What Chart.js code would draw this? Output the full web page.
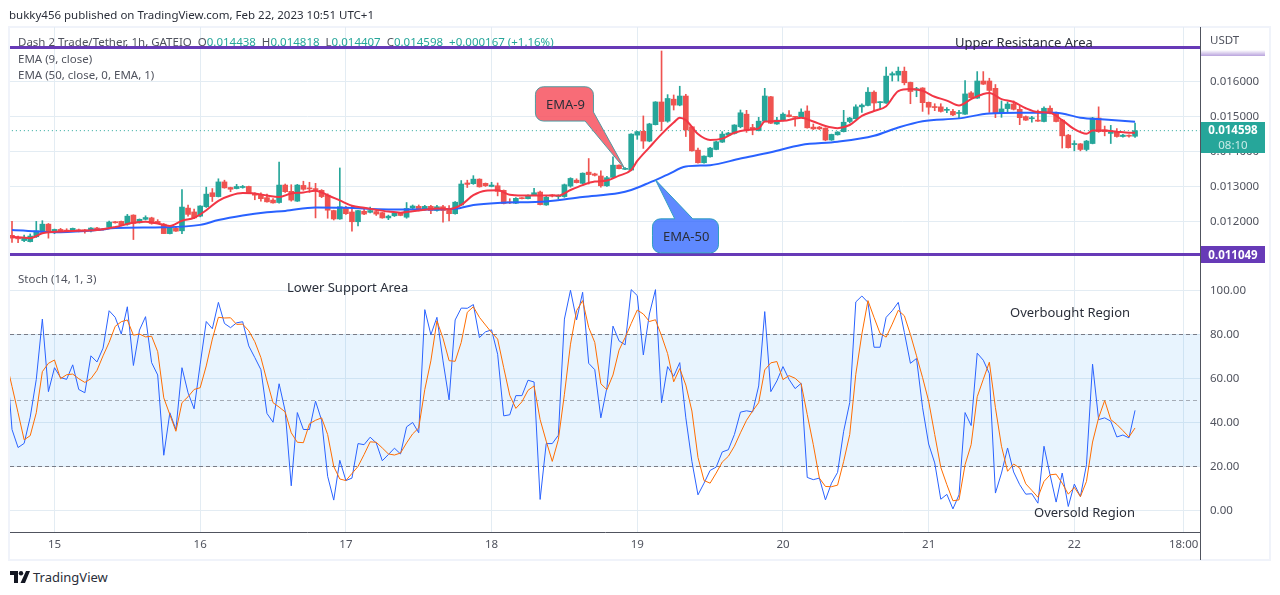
<!DOCTYPE html>
<html>
<head>
<meta charset="utf-8">
<title>Dash 2 Trade/Tether</title>
<script src="https://cdn.jsdelivr.net/npm/chart.js@4"></script>
<style>
body { margin: 0; background: #fff; font-family: "Noto Sans", sans-serif; }
#frame { position: absolute; left: 8px; top: 26px; width: 1263px; height: 535px; border: 2px solid #f0f3fa; box-sizing: border-box; }
canvas { position: absolute; left: 0; }
#priceChart { top: 0; }
#stochChart { top: 245px; }
.txt { position: absolute; white-space: nowrap; line-height: 16px; font-size: 11.5px; color: #50535e; }
.note { color: #2a2e39; font-size: 13px; }
.up { color: #26a69a; }
.tag { position: absolute; left: 1201px; width: 64px; color: #fff; font-size: 11.5px; font-weight: bold; text-align: center; }
</style>
</head>
<body>
<div id="frame"></div>
<canvas id="priceChart" width="1280" height="279"></canvas>
<canvas id="stochChart" width="1280" height="315"></canvas>

<div class="txt" style="left:9px;top:7px;color:#2a2e39">bukky456 published on TradingView.com, Feb 22, 2023 10:51 UTC+1</div>
<div class="txt" style="left:18px;top:34px">Dash 2 Trade/Tether, 1h, GATEIO&nbsp; O<span class="up">0.014438</span>&nbsp; H<span class="up">0.014818</span>&nbsp; L<span class="up">0.014407</span>&nbsp; C<span class="up">0.014598</span>&nbsp; <span class="up">+0.000167 (+1.16%)</span></div>
<div class="txt" style="left:18px;top:51px">EMA (9, close)</div>
<div class="txt" style="left:18px;top:67px">EMA (50, close, 0, EMA, 1)</div>
<div class="txt" style="left:18px;top:271px">Stoch (14, 1, 3)</div>
<div class="txt" style="left:1210px;top:32px">USDT</div>

<div class="txt note" style="left:955px;top:34px">Upper Resistance Area</div>
<div class="txt note" style="left:287px;top:279px">Lower Support Area</div>
<div class="txt note" style="left:1010px;top:304px">Overbought Region</div>
<div class="txt note" style="left:1034px;top:504px">Oversold Region</div>
<div class="txt note" style="left:546px;top:96px;color:#2a2e39">EMA-9</div>
<div class="txt note" style="left:663px;top:228px;color:#2a2e39">EMA-50</div>

<div class="tag" style="top:50px;height:6px;background:linear-gradient(#fff,#b9a3dd)"></div>
<div class="tag" style="top:122px;height:31px;background:#26a69a;line-height:15px">0.014598<br><span style="font-weight:normal;color:#c8ebe7">08:10</span></div>
<div class="tag" style="top:246px;height:17px;background:#673ab7;line-height:17px">0.011049</div>

<svg style="position:absolute;left:10px;top:571px" width="20" height="12" viewBox="0 0 20 12">
<path d="M0 0h8v12h-4v-8h-4z M16 0h4l-5 12h-4.5z" fill="#131722"/><circle cx="11" cy="2.2" r="2.2" fill="#131722"/>
</svg>
<div class="txt" style="left:33px;top:569px;color:#2a2e39;font-size:13px">TradingView</div>

<script>
// Candles, one per hour, first one is Feb 14 17:00
var opens = [0.01160,0.01154,0.01145,0.01142,0.01156,0.01169,0.01192,0.01169,0.01177,0.01175,
    0.01172,0.01176,0.01175,0.01173,0.01181,0.01178,0.01183,0.01199,0.01200,0.01192,
    0.01218,0.01196,0.01206,0.01210,0.01200,0.01192,0.01165,0.01180,0.01173,0.01238,
    0.01227,0.01215,0.01242,0.01282,0.01271,0.01313,0.01297,0.01294,0.01297,0.01300,
    0.01280,0.01275,0.01268,0.01261,0.01254,0.01304,0.01286,0.01258,0.01303,0.01295,
    0.01293,0.01289,0.01275,0.01231,0.01207,0.01239,0.01227,0.01199,0.01229,0.01226,
    0.01228,0.01225,0.01210,0.01216,0.01225,0.01212,0.01238,0.01243,0.01234,0.01243,
    0.01231,0.01242,0.01232,0.01222,0.01247,0.01310,0.01308,0.01321,0.01309,0.01300,
    0.01302,0.01289,0.01255,0.01252,0.01267,0.01265,0.01276,0.01284,0.01247,0.01276,
    0.01271,0.01271,0.01301,0.01318,0.01309,0.01341,0.01336,0.01330,0.01302,0.01326,
    0.01361,0.01349,0.01347,0.01447,0.01458,0.01430,0.01477,0.01542,0.01487,0.01550,
    0.01533,0.01559,0.01471,0.01404,0.01368,0.01385,0.01406,0.01427,0.01447,0.01452,
    0.01471,0.01507,0.01469,0.01460,0.01487,0.01557,0.01479,0.01490,0.01505,0.01500,
    0.01498,0.01516,0.01470,0.01470,0.01467,0.01433,0.01448,0.01457,0.01486,0.01494,
    0.01528,0.01532,0.01570,0.01540,0.01539,0.01619,0.01619,0.01630,0.01598,0.01576,
    0.01582,0.01541,0.01528,0.01528,0.01518,0.01515,0.01509,0.01507,0.01568,0.01553,
    0.01602,0.01602,0.01581,0.01510,0.01523,0.01536,0.01521,0.01500,0.01494,0.01490,
    0.01486,0.01524,0.01511,0.01490,0.01447,0.01420,0.01422,0.01406,0.01423,0.01496,
    0.01462,0.01452,0.01456,0.01443,0.01446,0.014438];
var closes = [0.01152,0.01150,0.01152,0.01158,0.01173,0.01192,0.01168,0.01177,0.01172,0.01171,
    0.01180,0.01172,0.01173,0.01181,0.01175,0.01176,0.01198,0.01196,0.01189,0.01215,
    0.01194,0.01206,0.01211,0.01194,0.01196,0.01165,0.01181,0.01172,0.01241,0.01220,
    0.01210,0.01244,0.01278,0.01271,0.01313,0.01296,0.01292,0.01300,0.01300,0.01281,
    0.01275,0.01265,0.01256,0.01253,0.01304,0.01285,0.01261,0.01304,0.01292,0.01293,
    0.01291,0.01271,0.01232,0.01207,0.01242,0.01222,0.01199,0.01231,0.01221,0.01231,
    0.01221,0.01210,0.01215,0.01223,0.01217,0.01237,0.01244,0.01231,0.01243,0.01231,
    0.01242,0.01231,0.01222,0.01255,0.01307,0.01306,0.01321,0.01299,0.01302,0.01304,
    0.01286,0.01251,0.01253,0.01266,0.01265,0.01274,0.01282,0.01248,0.01269,0.01273,
    0.01273,0.01305,0.01323,0.01311,0.01338,0.01334,0.01332,0.01302,0.01325,0.01361,
    0.01351,0.01352,0.01450,0.01457,0.01430,0.01479,0.01542,0.01486,0.01552,0.01533,
    0.01559,0.01462,0.01402,0.01368,0.01387,0.01410,0.01428,0.01450,0.01453,0.01476,
    0.01511,0.01460,0.01462,0.01487,0.01559,0.01481,0.01490,0.01507,0.01500,0.01498,
    0.01513,0.01468,0.01465,0.01465,0.01433,0.01449,0.01456,0.01484,0.01496,0.01528,
    0.01533,0.01570,0.01539,0.01542,0.01616,0.01623,0.01630,0.01597,0.01572,0.01580,
    0.01540,0.01527,0.01526,0.01515,0.01520,0.01505,0.01510,0.01565,0.01554,0.01602,
    0.01593,0.01575,0.01509,0.01522,0.01536,0.01521,0.01497,0.01490,0.01495,0.01487,
    0.01524,0.01510,0.01486,0.01445,0.01411,0.01423,0.01406,0.01430,0.01496,0.01457,
    0.01457,0.01456,0.01443,0.01447,0.01444,0.014598];
var highs = [0.01200,0.01158,0.01161,0.01164,0.01200,0.01202,0.01194,0.01178,0.01180,0.01179,
    0.01181,0.01178,0.01177,0.01182,0.01183,0.01179,0.01201,0.01200,0.01201,0.01220,
    0.01219,0.01207,0.01216,0.01212,0.01205,0.01194,0.01184,0.01186,0.01291,0.01247,
    0.01235,0.01245,0.01298,0.01294,0.01322,0.01318,0.01298,0.01306,0.01303,0.01301,
    0.01282,0.01282,0.01278,0.01265,0.01370,0.01307,0.01305,0.01306,0.01315,0.01312,
    0.01309,0.01291,0.01279,0.01232,0.01353,0.01243,0.01245,0.01232,0.01235,0.01241,
    0.01235,0.01226,0.01218,0.01225,0.01226,0.01254,0.01247,0.01247,0.01246,0.01246,
    0.01246,0.01246,0.01245,0.01257,0.01317,0.01318,0.01331,0.01322,0.01310,0.01312,
    0.01310,0.01290,0.01265,0.01268,0.01268,0.01276,0.01295,0.01287,0.01272,0.01277,
    0.01276,0.01307,0.01325,0.01322,0.01339,0.01380,0.01338,0.01345,0.01329,0.01385,
    0.01362,0.01354,0.01451,0.01458,0.01502,0.01481,0.01543,0.01688,0.01563,0.01562,
    0.01587,0.01564,0.01472,0.01410,0.01388,0.01412,0.01430,0.01457,0.01455,0.01477,
    0.01519,0.01518,0.01478,0.01498,0.01581,0.01558,0.01498,0.01511,0.01517,0.01501,
    0.01522,0.01531,0.01479,0.01472,0.01468,0.01450,0.01457,0.01518,0.01498,0.01534,
    0.01537,0.01583,0.01574,0.01543,0.01642,0.01628,0.01642,0.01642,0.01599,0.01584,
    0.01583,0.01542,0.01537,0.01537,0.01526,0.01521,0.01518,0.01603,0.01572,0.01629,
    0.01629,0.01610,0.01592,0.01545,0.01542,0.01545,0.01532,0.01502,0.01501,0.01519,
    0.01528,0.01531,0.01513,0.01492,0.01449,0.01431,0.01423,0.01432,0.01498,0.01528,
    0.01473,0.01475,0.01466,0.01449,0.01448,0.014818];
var lows = [0.01140,0.01139,0.01142,0.01141,0.01154,0.01167,0.01152,0.01165,0.01170,0.01168,
    0.01171,0.01170,0.01166,0.01170,0.01174,0.01175,0.01180,0.01195,0.01187,0.01189,
    0.01148,0.01195,0.01204,0.01192,0.01194,0.01165,0.01164,0.01171,0.01165,0.01215,
    0.01208,0.01213,0.01240,0.01257,0.01270,0.01295,0.01285,0.01293,0.01295,0.01281,
    0.01262,0.01258,0.01255,0.01252,0.01252,0.01283,0.01258,0.01257,0.01289,0.01283,
    0.01210,0.01268,0.01209,0.01204,0.01206,0.01220,0.01172,0.01187,0.01219,0.01224,
    0.01217,0.01209,0.01205,0.01214,0.01216,0.01209,0.01236,0.01230,0.01232,0.01222,
    0.01229,0.01198,0.01201,0.01221,0.01246,0.01297,0.01306,0.01298,0.01300,0.01299,
    0.01273,0.01250,0.01251,0.01251,0.01264,0.01264,0.01274,0.01247,0.01246,0.01270,
    0.01265,0.01269,0.01298,0.01310,0.01307,0.01307,0.01330,0.01298,0.01300,0.01324,
    0.01350,0.01348,0.01345,0.01435,0.01409,0.01428,0.01476,0.01460,0.01484,0.01519,
    0.01531,0.01443,0.01401,0.01367,0.01367,0.01384,0.01405,0.01426,0.01445,0.01450,
    0.01468,0.01455,0.01448,0.01459,0.01486,0.01480,0.01478,0.01488,0.01499,0.01473,
    0.01497,0.01467,0.01463,0.01463,0.01431,0.01432,0.01447,0.01456,0.01482,0.01493,
    0.01512,0.01531,0.01516,0.01520,0.01538,0.01602,0.01602,0.01591,0.01537,0.01557,
    0.01515,0.01507,0.01517,0.01513,0.01511,0.01503,0.01497,0.01506,0.01552,0.01552,
    0.01592,0.01512,0.01497,0.01498,0.01512,0.01519,0.01477,0.01489,0.01484,0.01486,
    0.01485,0.01508,0.01485,0.01410,0.01410,0.01402,0.01402,0.01402,0.01422,0.01455,
    0.01445,0.01423,0.01441,0.01441,0.01441,0.014407];

var ema9At = [0,3,5,8,11,14,17,20,22,24,26,28,30,32,34,36,38,40,42,44,46,48,50,52,54,56,58,60,62,64,66,68,70,72,74,76,78,80,82,84,86,88,90,92,94,96,98,100,102,103,105,107,109,110,111,113,115,117,119,121,123,124,127,130,132,134,136,138,140,142,144,146,148,150,152,154,156,158,160,161,163,165,167,169,171,173,175,177,178,180,182,184,185];
var ema9 = [0.01156,0.01152,0.01166,0.01171,0.01173,0.01175,0.01184,0.01196,0.01199,0.01194,0.01187,0.01202,0.01210,0.01232,0.01259,0.01274,0.01281,0.01280,0.01274,0.01270,0.01280,0.01283,0.01288,0.01275,0.01260,0.01245,0.01239,0.01233,0.01228,0.01225,0.01229,0.01233,0.01237,0.01235,0.01247,0.01275,0.01288,0.01289,0.01276,0.01274,0.01274,0.01274,0.01274,0.01290,0.01304,0.01314,0.01317,0.01331,0.01347,0.01373,0.01412,0.01450,0.01483,0.01497,0.01490,0.01450,0.01433,0.01437,0.01454,0.01462,0.01466,0.01486,0.01488,0.01497,0.01486,0.01473,0.01467,0.01476,0.01502,0.01516,0.01530,0.01573,0.01579,0.01574,0.01557,0.01546,0.01532,0.01550,0.01565,0.01568,0.01550,0.01542,0.01524,0.01513,0.01511,0.01490,0.01464,0.01451,0.01460,0.01460,0.01457,0.01454,0.01454];
var ema50At = [0,8,14,17,25,31,34,38,42,45,50,55,62,68,73,76,80,88,94,100,102,105,108,111,115,120,125,130,136,142,146,150,156,161,166,172,176,180,185];
var ema50 = [0.01175,0.01169,0.01175,0.01181,0.01183,0.01190,0.01204,0.01217,0.01226,0.01230,0.01240,0.01239,0.01234,0.01234,0.01236,0.01247,0.01253,0.01257,0.01270,0.01281,0.01290,0.01311,0.01334,0.01357,0.01361,0.01380,0.01398,0.01419,0.01428,0.01445,0.01469,0.01487,0.01495,0.01509,0.01511,0.01511,0.01497,0.01492,0.01485];

// Stochastic, first value belongs to the hour before the first candle
var stochK = [73,36.7,28.5,30.4,42.3,59.5,86.9,53.9,64.8,60.3,59.5,
    66.1,54.9,53.4,70.2,67.4,73.7,90.7,87.7,80.1,92.5,
    65.8,81.9,88,67.1,61.5,25,44.3,36.7,64.8,53.4,
    46.1,66.4,85.8,82.5,94.5,84.9,83,85.2,85.7,74.7,
    69.4,63.9,44,40,57.5,45.1,11.1,44.4,36.7,36.7,
    49.6,40.9,15.4,4.6,22.7,13.5,14.6,30.3,29.8,33.2,
    30.6,22.5,25.3,28.2,25.6,37.9,39.9,35.2,91.2,79.8,
    87.7,67.9,50.2,86.5,91.9,91.8,93.5,78.5,81.1,82,
    70.9,42.9,43.4,52.1,52.1,59.1,58.3,4.9,30.3,30.3,
    34.1,86.9,100,86.5,99.1,66.8,63.9,42,55.7,83.7,
    77,75.2,100.3,97.6,70.6,89.2,100.3,48.9,65.3,60.9,
    67.1,42,22.2,7,12.3,18.1,19.6,26.5,27.5,34.4,
    44.6,45.2,44.7,56.5,90.3,53.9,58.8,65.3,59.5,55.3,
    57.7,14.9,13.9,14.6,4.7,12.3,17.2,35.9,48.9,94.7,
    97.4,94.5,74.1,74.1,87.7,90.7,94.5,80.8,66.8,69,
    46.6,30.1,21.5,5,7.2,0.6,7,44.4,38.5,71.4,
    68.2,62.1,7.8,16.9,28.3,17.4,11.6,7.3,7.5,3.2,
    29.1,16.1,3.7,16.9,1.7,11.9,6.2,20.7,66.4,41.2,
    42,40.5,33.3,34.2,32.9,45.4];
var stochD = [68.2,56.3,44.3,32,33.9,44.3,63,66.8,68.3,59.8,61.6,
    61.9,59.8,58.1,59.8,63.6,70.2,76.3,83.6,85.7,86.5,
    79.6,80.1,78.8,79.1,72.1,51.1,43.5,35.9,48.9,51.6,
    54.9,55.7,65.6,77.8,87.7,87.4,87.5,84.5,84.6,81.6,
    76.6,69.4,58.8,48.9,46.9,44.7,35.2,30.9,30.7,39.3,
    40.9,42,34.4,19.9,14.2,13.5,16.7,19.9,25.3,31.1,
    30.9,28.3,25.6,25.1,26,30.6,34.7,37.4,54.9,67.9,
    86.1,78.2,68,67.7,76.3,90,92.5,87.7,84.2,80.8,
    77.8,64.8,52.2,46.3,49.3,54.5,56.5,41.2,31.4,22.2,
    32.1,52.7,75.5,90.7,95.3,83.1,76.3,57.5,54.8,61.5,
    72.8,78.5,84.9,91,89.2,85.8,86.6,79.3,71.2,58.4,
    64.4,56.9,45.1,24,13.5,12.3,16.9,21.9,24.5,29.1,
    35.2,40.9,45.1,48.9,63.8,67,67.6,59.4,61.2,60,
    57.5,43.5,29.8,14.6,10.8,10.7,11.4,22.2,34.4,61.8,
    80.1,95.3,87.7,80.4,78.7,84.6,90.9,88.4,79.9,70.2,
    60.3,49.6,34.4,19.5,11.6,4.3,4.7,20.7,29.8,51.6,
    59.5,67.3,46.6,29.1,17.7,21,19.2,12,9,5.9,
    13.1,16.1,16.4,12.3,7.3,10.4,6.2,13.1,31,42,
    49.9,41.2,39,36.2,33.3,37.4];

var resistance = 0.01698;
var support = 0.011049;
var lastPrice = 0.014598;

var priceTicks = [0.012, 0.013, 0.014, 0.015, 0.016];
var stochTicks = [0, 20, 40, 60, 80, 100];
var dayTickAt = [7, 31, 55, 79, 103, 127, 151, 175, 193];
var dayTickLabels = ['15', '16', '17', '18', '19', '20', '21', '22', '18:00'];

var FONT = '"Noto Sans", sans-serif';
var GRID = '#e3ecf3';
var AXIS = '#50535e';
var TEXT = '#50535e';
var UP = '#26a69a';
var DOWN = '#ef5350';

function pairs(at, values) {
    return values.map(function (v, n) { return { x: at[n], y: v }; });
}

function fromIndex(start, values) {
    return values.map(function (v, n) { return { x: start + n, y: v }; });
}

// own ticks, and keep the range that was asked for
function setTicks(list) {
    return function (scale) {
        scale.ticks = list.map(function (v) { return { value: v }; });
        scale.min = scale.options.min;
        scale.max = scale.options.max;
    };
}

var xBase = {
    type: 'linear',
    min: -0.33,
    max: 195.7,
    offset: false,
    afterBuildTicks: setTicks(dayTickAt),
    grid: { color: GRID, offset: false, drawTicks: false }
};

// Callouts hang on a point of the chart, the outline is in pixels from that point
var callouts = [
    {
        tip: [101, 0.01349], fill: 'rgba(247,82,95,0.85)', stroke: '#4f9aa0',
        shape: [[-89.7, -82.6, 8], [-31.7, -82.6, 8], [-31.7, -57.3, 0], [0, 0, 0], [-40, -48.3, 0], [-89.7, -48.3, 8]]
    },
    {
        tip: [106, 0.01319], fill: 'rgba(41,98,255,0.75)', stroke: '#2f9fc0',
        shape: [[-3, 39, 8], [19.3, 39, 0], [0, 0, 0], [37.3, 39, 0], [63, 39, 8], [63, 73, 8], [-3, 73, 8]]
    }
];

var calloutPlugin = {
    id: 'callouts',
    afterDatasetsDraw: function (chart) {
        var c = chart.ctx;
        callouts.forEach(function (co) {
            var tx = chart.scales.x.getPixelForValue(co.tip[0]);
            var ty = chart.scales.y.getPixelForValue(co.tip[1]);
            var pts = co.shape;
            var n = pts.length;
            c.save();
            c.beginPath();
            // start halfway along the closing edge so every corner can be rounded
            c.moveTo(tx + (pts[n - 1][0] + pts[0][0]) / 2, ty + (pts[n - 1][1] + pts[0][1]) / 2);
            for (var i = 0; i < n; i++) {
                var p = pts[i];
                var q = pts[(i + 1) % n];
                c.arcTo(tx + p[0], ty + p[1], tx + q[0], ty + q[1], p[2]);
            }
            c.closePath();
            c.fillStyle = co.fill;
            c.fill();
            c.strokeStyle = co.stroke;
            c.lineWidth = 1;
            c.stroke();
            c.restore();
        });
    }
};

var bandPlugin = {
    id: 'band',
    beforeDatasetsDraw: function (chart) {
        var c = chart.ctx;
        var a = chart.chartArea;
        var y = chart.scales.y;
        c.save();
        c.fillStyle = 'rgba(33,150,243,0.1)';
        c.fillRect(a.left, y.getPixelForValue(80), a.right - a.left, y.getPixelForValue(20) - y.getPixelForValue(80));
        c.setLineDash([4, 3]);
        c.lineWidth = 1;
        [[80, '#787b86'], [50, 'rgba(120,123,134,0.6)'], [20, '#787b86']].forEach(function (l) {
            var py = Math.round(y.getPixelForValue(l[0])) + 0.5;
            c.strokeStyle = l[1];
            c.beginPath();
            c.moveTo(a.left, py);
            c.lineTo(a.right, py);
            c.stroke();
        });
        c.restore();
    },
    afterDraw: function (chart) {
        // axis line carries on down through the time scale
        var c = chart.ctx;
        var a = chart.chartArea;
        c.save();
        c.strokeStyle = AXIS;
        c.beginPath();
        c.moveTo(a.right + 0.5, a.bottom);
        c.lineTo(a.right + 0.5, chart.height);
        c.stroke();
        c.restore();
    }
};

var candleColors = closes.map(function (v, i) { return v >= opens[i] ? UP : DOWN; });

var priceChart = new Chart(document.getElementById('priceChart').getContext('2d'), {
    type: 'bar',
    data: {
        datasets: [
            {
                type: 'line', data: [{ x: -2, y: resistance }, { x: 198, y: resistance }],
                borderColor: '#673ab7', borderWidth: 3, pointRadius: 0, order: 0
            },
            {
                type: 'line', data: [{ x: -2, y: support }, { x: 198, y: support }],
                borderColor: '#673ab7', borderWidth: 3, pointRadius: 0, order: 0
            },
            {
                type: 'line', data: pairs(ema9At, ema9), borderColor: '#f23645', borderWidth: 2,
                pointRadius: 0, cubicInterpolationMode: 'monotone', order: 1
            },
            {
                type: 'line', data: pairs(ema50At, ema50), borderColor: '#2962ff', borderWidth: 2,
                pointRadius: 0, cubicInterpolationMode: 'monotone', order: 2
            },
            {
                data: opens.map(function (v, i) { return { x: i, y: [v, closes[i]] }; }),
                backgroundColor: candleColors, barThickness: 5, minBarLength: 1, grouped: false, order: 3
            },
            {
                data: lows.map(function (v, i) { return { x: i, y: [v, highs[i]] }; }),
                backgroundColor: candleColors, barThickness: 1, grouped: false, order: 4
            },
            {
                type: 'line', data: [{ x: -2, y: lastPrice }, { x: 198, y: lastPrice }],
                borderColor: UP, borderWidth: 1, borderDash: [1, 3], pointRadius: 0, order: 5
            }
        ]
    },
    options: {
        responsive: false,
        animation: false,
        layout: { autoPadding: false, padding: { left: 10, top: 27, right: 10, bottom: 0 } },
        plugins: { legend: { display: false }, tooltip: { enabled: false } },
        scales: {
            x: Object.assign({}, xBase, {
                ticks: { display: false },
                border: { display: false },
                afterFit: function (scale) { scale.height = 0; }
            }),
            y: {
                position: 'right',
                min: 0.010834,
                max: 0.017567,
                afterBuildTicks: setTicks(priceTicks),
                afterFit: function (scale) { scale.width = 70; },
                grid: { color: GRID, drawTicks: false },
                border: { color: AXIS },
                ticks: {
                    padding: 10, color: TEXT, font: { family: FONT, size: 11.5 },
                    callback: function (v) { return v.toFixed(6); }
                }
            }
        }
    },
    plugins: [calloutPlugin]
});

var stochChart = new Chart(document.getElementById('stochChart').getContext('2d'), {
    type: 'line',
    data: {
        datasets: [
            { data: fromIndex(-1, stochD), borderColor: '#ff6d00', borderWidth: 1, pointRadius: 0, order: 0 },
            { data: fromIndex(-1, stochK), borderColor: '#2962ff', borderWidth: 1, pointRadius: 0, order: 1 }
        ]
    },
    options: {
        responsive: false,
        animation: false,
        layout: { autoPadding: false, padding: { left: 10, top: 1, right: 10, bottom: 0 } },
        plugins: { legend: { display: false }, tooltip: { enabled: false } },
        scales: {
            x: Object.assign({}, xBase, {
                afterFit: function (scale) { scale.height = 28; },
                border: { color: AXIS },
                ticks: {
                    autoSkip: false, maxRotation: 0, padding: 6, color: TEXT, font: { family: FONT, size: 11.5 },
                    callback: function (v) { return dayTickLabels[dayTickAt.indexOf(v)]; }
                }
            }),
            y: {
                position: 'right',
                min: -9.9,
                max: 112.9,
                afterBuildTicks: setTicks(stochTicks),
                afterFit: function (scale) { scale.width = 70; },
                grid: { color: GRID, drawTicks: false },
                border: { color: AXIS },
                ticks: {
                    padding: 10, color: TEXT, font: { family: FONT, size: 11.5 },
                    callback: function (v) { return v.toFixed(2); }
                }
            }
        }
    },
    plugins: [bandPlugin]
});
</script>
</body>
</html>
